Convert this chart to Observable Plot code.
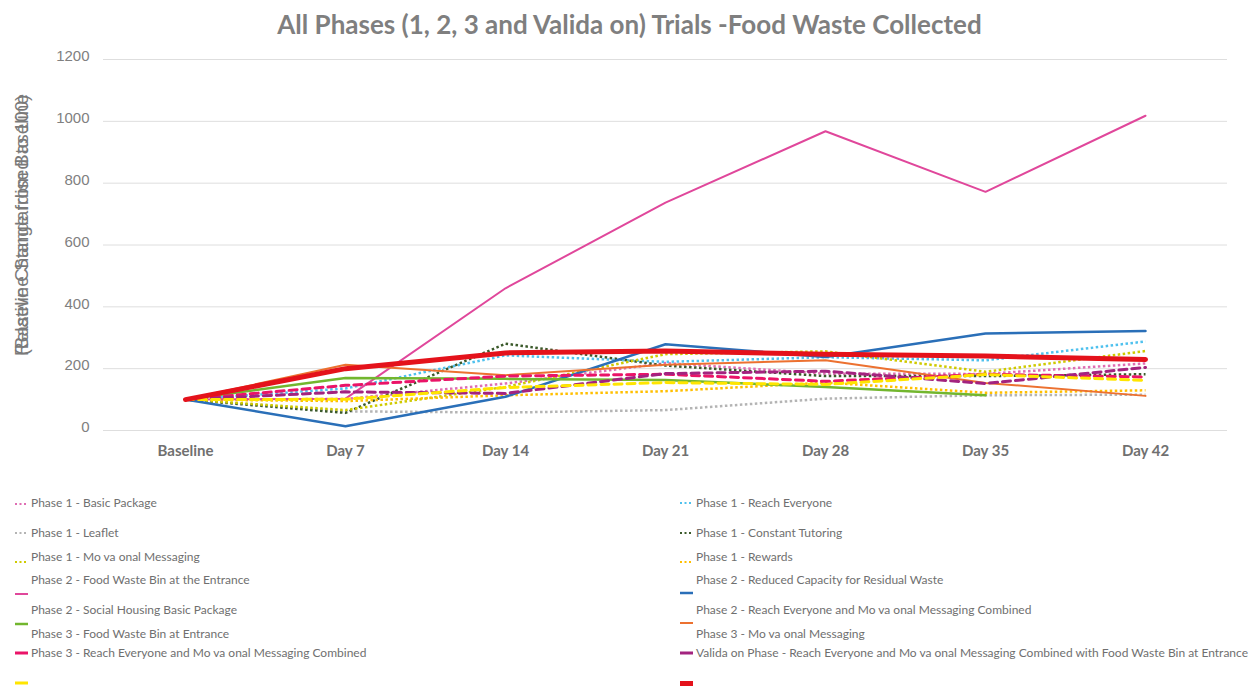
<!DOCTYPE html>
<html>
<head>
<meta charset="utf-8">
<script src="https://cdn.jsdelivr.net/npm/d3@7"></script>
<script src="https://cdn.jsdelivr.net/npm/@observablehq/plot@0.6"></script>
<style>
  html, body { margin: 0; padding: 0; background: #fff; }
  #wrap { position: relative; width: 1259px; height: 686px; overflow: hidden; }
  #chart { position: absolute; left: 0; top: 0; }
  #title { position: absolute; left: 0; top: 8px; width: 1259px; text-align: center;
           font-family: Lato, "Open Sans", sans-serif; font-weight: bold; font-size: 26px; color: #7f7f7f; line-height: 32px; }
  .ylab { position: absolute; width: 340px; left: -148px; top: 214px; text-align: center;
          transform: rotate(-90deg); transform-origin: 50% 50%;
          font-family: "Liberation Sans", Arial, sans-serif; font-size: 19px; color: #7a7a7a; white-space: nowrap; line-height: 22px; }
  .leg-text { position: absolute; font-family: Lato, "Open Sans", sans-serif; font-size: 12px; color: #6f6f6f; white-space: nowrap; line-height: 14px; }
  .leg-sample { position: absolute; }
</style>
</head>
<body>
<div id="wrap">
  <div id="chart"></div>
  <div id="title"></div>
  <div class="ylab" id="ylab1"></div>
  <div class="ylab" id="ylab2"></div>
  <div id="legend"></div>
</div>
<script>
// ---------------- DATA ----------------
const chartTitle = "All Phases (1, 2, 3 and Valida on) Trials -Food Waste Collected";
const yLabelA = "(Baseline Standardised to 100)";
const yLabelB = "Relative Change from Baseline";
const days = ["Baseline", "Day 7", "Day 14", "Day 21", "Day 28", "Day 35", "Day 42"];
const yTicks = [0, 200, 400, 600, 800, 1000, 1200];

const seriesNames = [
  "Phase 1 - Basic Package",
  "Phase 1 - Reach Everyone",
  "Phase 1 - Leaflet",
  "Phase 1 - Constant Tutoring",
  "Phase 1 - Mo va onal Messaging",
  "Phase 1 - Rewards",
  "Phase 2 - Food Waste Bin at the Entrance",
  "Phase 2 - Reduced Capacity for Residual Waste",
  "Phase 2 - Social Housing Basic Package",
  "Phase 2 - Reach Everyone and Mo va onal Messaging Combined",
  "Phase 3 - Food Waste Bin at Entrance",
  "Phase 3 - Mo va onal Messaging",
  "Phase 3 - Reach Everyone and Mo va onal Messaging Combined",
  "Valida on Phase - Reach Everyone and Mo va onal Messaging Combined with Food Waste Bin at Entrance"
];

const p1BasicPackage          = [100, 102, 152, 218, 184, 183, 217];
const p1ReachEveryone         = [100, 136, 243, 222, 237, 227, 288];
const p1Leaflet               = [100,  62,  58,  66, 103, 114, 116];
const p1ConstantTutoring      = [100,  57, 281, 210, 176, 176, 182];
const p1MotivationalMessaging = [100,  66, 141, 247, 256, 190, 257];
const p1Rewards               = [100,  95, 114, 127, 155, 122, 130];
const p2FoodWasteBin          = [100, 103, 460, 737, 968, 772, 1018];
const p2ReducedCapacity       = [100,  14, 109, 279, 238, 314, 322];
const p2SocialHousing         = [100, 170, 167, 163, 141, 114, null];
const p2ReachEveryoneMM       = [100, 213, 179, 213, 227, 154, 112];
const p3FoodWasteBin          = [100, 146, 176, 182, 159, 182, 173];
const p3MotivationalMessaging = [100, 125, 120, 184, 192, 152, 204];
const p3ReachEveryoneMM       = [100, 101, 139, 155, 149, 181, 162];
const validationPhase         = [100, 200, 251, 257, 247, 241, 230];

const seriesValues = [
  p1BasicPackage, p1ReachEveryone, p1Leaflet, p1ConstantTutoring,
  p1MotivationalMessaging, p1Rewards, p2FoodWasteBin, p2ReducedCapacity,
  p2SocialHousing, p2ReachEveryoneMM, p3FoodWasteBin, p3MotivationalMessaging,
  p3ReachEveryoneMM, validationPhase
];

// ---------------- STYLES ----------------
const DOT = "2.5,2.5", DASH = "8,5";
const styles = [
  {color: "#df6db3", width: 2.5, dash: DOT},
  {color: "#4fc1ee", width: 2.5, dash: DOT},
  {color: "#b4b4b4", width: 2.5, dash: DOT},
  {color: "#3b5a2b", width: 2.5, dash: DOT},
  {color: "#cfca00", width: 2.5, dash: DOT},
  {color: "#ffbf00", width: 2.5, dash: DOT},
  {color: "#e0479b", width: 2, dash: null},
  {color: "#2a6fb8", width: 2.5, dash: null},
  {color: "#72b62e", width: 2.5, dash: null},
  {color: "#ec7130", width: 2, dash: null},
  {color: "#ea1468", width: 3, dash: DASH},
  {color: "#a3237f", width: 3, dash: DASH},
  {color: "#ffe500", width: 3, dash: DASH},
  {color: "#e4121b", width: 5, dash: null}
];

// ---------------- TABLE ----------------
const rows = seriesValues.flatMap((vals, i) =>
  days.map((d, j) => ({series: i, day: d, value: vals[j]})).filter(r => r.value != null)
);

const lineMarks = seriesValues.map((_, i) => Plot.line(rows.filter(r => r.series === i), {
  x: "day", y: "value",
  stroke: styles[i].color,
  strokeWidth: styles[i].width,
  strokeDasharray: styles[i].dash || undefined,
  strokeLinejoin: "round",
  strokeLinecap: styles[i].dash === DOT ? "butt" : "round"
}));

const plot = Plot.plot({
  width: 1259,
  height: 470,
  marginTop: 59,
  marginBottom: 40,
  marginLeft: 103,
  marginRight: 32,
  style: {background: "transparent", overflow: "visible"},
  x: {type: "point", domain: days, padding: 0.5},
  y: {domain: [0, 1200]},
  marks: [
    Plot.gridY(yTicks, {stroke: "#dedede", strokeOpacity: 1, strokeWidth: 1}),
    Plot.axisY(yTicks, {tickSize: 0, tickPadding: 14, label: null, fontSize: 15, tickFormat: d => String(d),
      dy: -3, fontFamily: "Liberation Sans, Arial, sans-serif", color: "#808080"}),
    Plot.axisX({tickSize: 0, tickPadding: 15, label: null, fontSize: 15, fontWeight: "bold",
      fontFamily: "Lato, Open Sans, sans-serif", color: "#707070"}),
    ...lineMarks
  ]
});
document.getElementById("chart").appendChild(plot);

document.getElementById("title").textContent = chartTitle;
document.getElementById("ylab1").textContent = yLabelA;
document.getElementById("ylab2").textContent = yLabelB;

// ---------------- LEGEND (layout as in reference) ----------------
const legendTextRows = [503, 533, 557, 580, 610, 634, 653];
const legendSampleY = [504, 503, 533, 533, 562, 562, 594, 593, 624, 623, 653, 653, 683, 683];
const colTextX = [31, 696];
const colSampleX = [14, 679];
const legend = d3.select("#legend");
seriesNames.forEach((name, i) => {
  const col = i % 2, row = Math.floor(i / 2);
  legend.append("div").attr("class", "leg-text")
    .style("left", colTextX[col] + "px")
    .style("top", (legendTextRows[row] - 7) + "px")
    .text(name);
  const st = styles[i];
  const h = Math.max(6, st.width + 2);
  const svg = legend.append("svg").attr("class", "leg-sample")
    .attr("width", 16).attr("height", h)
    .style("left", colSampleX[col] + "px")
    .style("top", (legendSampleY[i] - h / 2) + "px");
  svg.append("line")
    .attr("x1", 1).attr("x2", 14).attr("y1", h / 2).attr("y2", h / 2)
    .attr("stroke", st.color)
    .attr("stroke-width", st.dash === DOT ? 2 : st.width)
    .attr("stroke-dasharray", st.dash === DOT ? "2,2.5" : null)
    .attr("stroke-linecap", "butt");
});
</script>
</body>
</html>
